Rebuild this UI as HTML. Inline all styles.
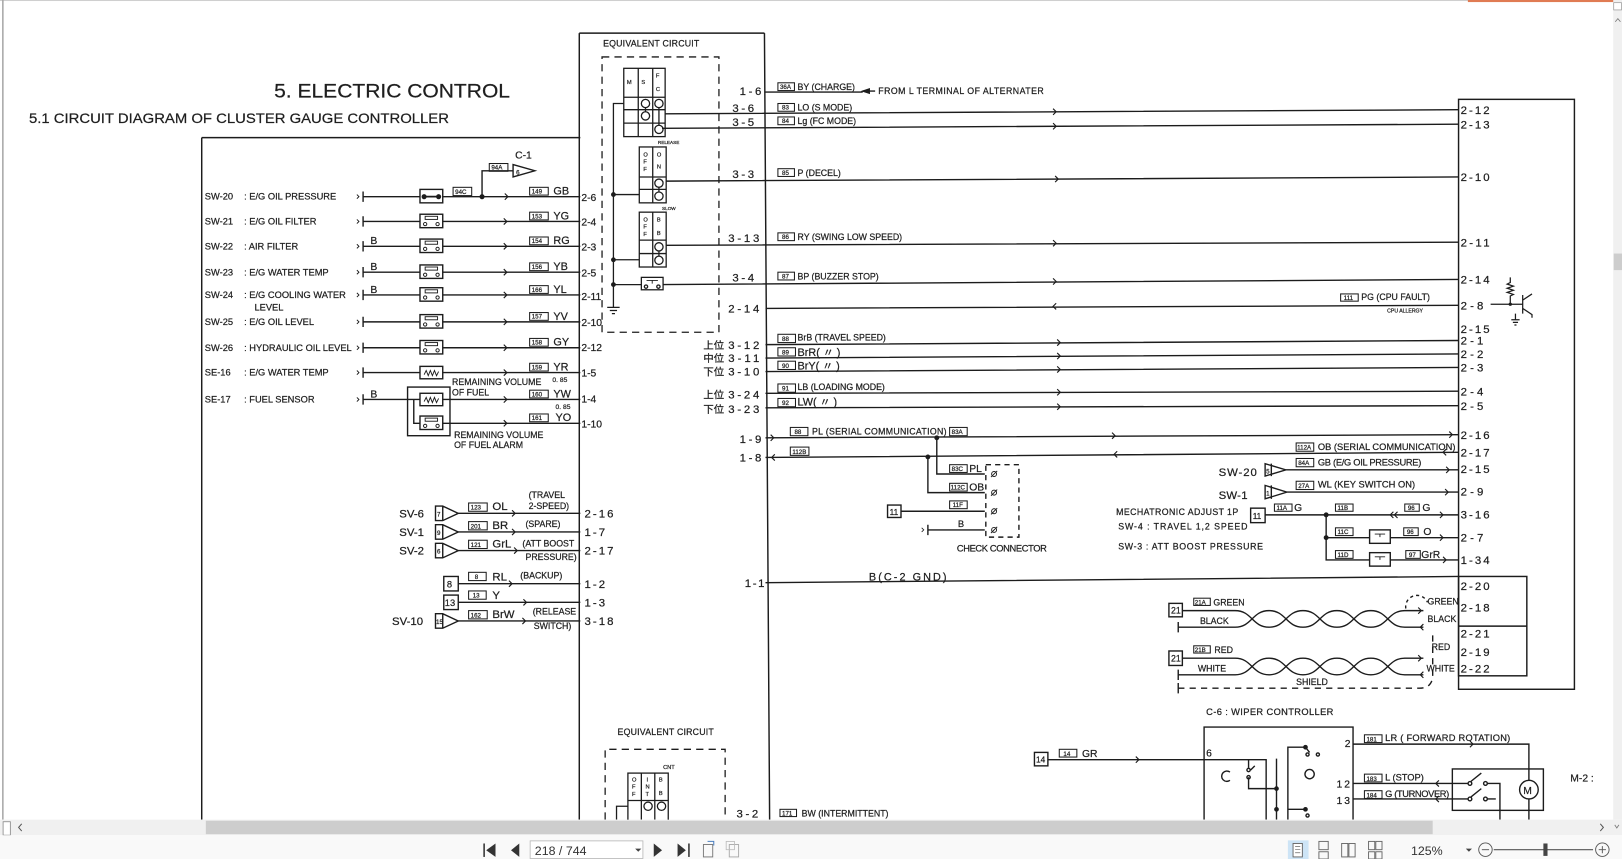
<!DOCTYPE html>
<html><head><meta charset="utf-8">
<style>
html,body{margin:0;padding:0;background:#fff;overflow:hidden;}
svg{display:block;}
text{font-family:"Liberation Sans","Noto Sans CJK JP",sans-serif;fill:#1e1e1e;stroke:#1e1e1e;stroke-width:0.22;}
.ui text{fill:#333;stroke:none;}
</style></head><body>
<svg width="1622" height="859" viewBox="0 0 1568 830" preserveAspectRatio="none" xmlns="http://www.w3.org/2000/svg">
<rect x="0" y="0" width="1568" height="830" fill="#fff"/>

<!-- TITLES -->
<text x="265" y="94" font-size="19" textLength="228" lengthAdjust="spacingAndGlyphs">5.  ELECTRIC CONTROL</text>
<text x="28" y="119" font-size="13.5" textLength="406" lengthAdjust="spacingAndGlyphs">5.1 CIRCUIT DIAGRAM OF CLUSTER GAUGE CONTROLLER</text>

<g stroke="#1c1c1c" stroke-width="1.4" fill="none">
<path d="M195,133 H561 M195,133 V792 M560,32 V792 M560,32 H739 M739,32 L744,792"/>
<rect x="1410" y="96" width="112" height="570"/>
<rect x="1410" y="557" width="66" height="96"/>
<path d="M1410,605 H1476"/>
</g>

<!-- LEFT SENSOR ROWS -->
<g font-size="9">
<text x="198" y="193">SW-20</text><text x="236" y="193">: E/G OIL PRESSURE</text>
<text x="198" y="217">SW-21</text><text x="236" y="217">: E/G OIL FILTER</text>
<text x="198" y="241">SW-22</text><text x="236" y="241">: AIR FILTER</text>
<text x="198" y="266">SW-23</text><text x="236" y="266">: E/G WATER TEMP</text>
<text x="198" y="288">SW-24</text><text x="236" y="288">: E/G COOLING WATER</text>
<text x="246" y="300">LEVEL</text>
<text x="198" y="314">SW-25</text><text x="236" y="314">: E/G OIL LEVEL</text>
<text x="198" y="339">SW-26</text><text x="236" y="339">: HYDRAULIC OIL LEVEL</text>
<text x="198" y="363">SE-16</text><text x="236" y="363">: E/G WATER TEMP</text>
<text x="198" y="389">SE-17</text><text x="236" y="389">: FUEL SENSOR</text>
<text x="358" y="236" font-size="10">B</text>
<text x="358" y="261" font-size="10">B</text>
<text x="358" y="283" font-size="10">B</text>
<text x="358" y="384" font-size="10">B</text>
</g>

<g stroke="#1c1c1c" stroke-width="1.35" fill="none">
<path d="M351,185 V195 M351,209 V219 M351,233 V243 M351,258 V268 M351,280 V290 M351,306 V316 M351,331 V341 M351,355 V365 M351,381 V391"/>
<path stroke-width="0.9" d="M345,188 l2,2 l-2,2 M345,212 l2,2 l-2,2 M345,236 l2,2 l-2,2 M345,261 l2,2 l-2,2 M345,283 l2,2 l-2,2 M345,309 l2,2 l-2,2 M345,334 l2,2 l-2,2 M345,358 l2,2 l-2,2 M345,384 l2,2 l-2,2"/>
<path d="M351,190 H406 M428,190 H561
M351,214 H406 M428,214 H561
M351,238 H406 M428,238 H561
M351,263 H406 M428,263 H561
M351,285 H406 M428,285 H561
M351,311 H406 M428,311 H561
M351,336 H406 M428,336 H561
M351,360 H406 M428,360 H561
M351,386 H406 M428,386 H561
M400,386 V409 H406 M428,409 H561"/>
<rect x="406" y="183" width="22" height="13"/>
<rect x="406" y="207" width="22" height="13"/>
<rect x="406" y="231" width="22" height="13"/>
<rect x="406" y="256" width="22" height="13"/>
<rect x="406" y="278" width="22" height="13"/>
<rect x="406" y="304" width="22" height="13"/>
<rect x="406" y="329" width="22" height="13"/>
<rect x="406" y="354" width="22" height="12"/>
<rect x="406" y="380" width="22" height="12"/>
<rect x="406" y="402" width="22" height="13"/>
<rect x="394" y="374" width="41" height="47"/>
<path stroke-width="1.6" d="M409,190 H425"/>
<g stroke-width="0.9">
<rect x="411" y="209" width="12" height="3"/><circle cx="411" cy="216.5" r="1.6"/><circle cx="423" cy="216.5" r="1.6"/>
<rect x="411" y="233" width="12" height="3"/><circle cx="411" cy="240.5" r="1.6"/><circle cx="423" cy="240.5" r="1.6"/>
<rect x="411" y="258" width="12" height="3"/><circle cx="411" cy="265.5" r="1.6"/><circle cx="423" cy="265.5" r="1.6"/>
<rect x="411" y="280" width="12" height="3"/><circle cx="411" cy="287.5" r="1.6"/><circle cx="423" cy="287.5" r="1.6"/>
<rect x="411" y="306" width="12" height="3"/><circle cx="411" cy="313.5" r="1.6"/><circle cx="423" cy="313.5" r="1.6"/>
<rect x="411" y="331" width="12" height="3"/><circle cx="411" cy="338.5" r="1.6"/><circle cx="423" cy="338.5" r="1.6"/>
<rect x="411" y="404" width="12" height="3"/><circle cx="411" cy="411.5" r="1.6"/><circle cx="423" cy="411.5" r="1.6"/>
<path d="M410,362 l2,-4 l2,5 l2,-5 l2,5 l2,-5 l2,5 l2,-4"/>
<path d="M410,388 l2,-4 l2,5 l2,-5 l2,5 l2,-5 l2,5 l2,-4"/>
</g>
<circle cx="410" cy="190" r="1.8" fill="#1c1c1c"/><circle cx="424" cy="190" r="1.8" fill="#1c1c1c"/>
<path stroke-width="1.1" d="M488,187 l3,3 l-3,3 M487,211 l3,3 l-3,3 M487,235 l3,3 l-3,3 M487,260 l3,3 l-3,3 M487,282 l3,3 l-3,3 M487,308 l3,3 l-3,3 M487,333 l3,3 l-3,3 M487,357 l3,3 l-3,3 M487,383 l3,3 l-3,3 M487,406 l3,3 l-3,3"/>
<path d="M466,190 V165 H496"/>
<circle cx="466" cy="190" r="1.8" fill="#1c1c1c"/>
<path d="M496,159 V171 L517,165 Z"/>
</g>
<g stroke="#1c1c1c" stroke-width="1" fill="none">
<rect x="438" y="181" width="18" height="8"/>
<rect x="473" y="158" width="18" height="7.5"/>
<rect x="512" y="181" width="18" height="7.5"/>
<rect x="512" y="205" width="18" height="7.5"/>
<rect x="512" y="229" width="18" height="7.5"/>
<rect x="512" y="254" width="18" height="7.5"/>
<rect x="512" y="276" width="18" height="7.5"/>
<rect x="512" y="302" width="18" height="7.5"/>
<rect x="512" y="327" width="18" height="7.5"/>
<rect x="512" y="351" width="18" height="7.5"/>
<rect x="512" y="377" width="18" height="7.5"/>
<rect x="512" y="400" width="18" height="7.5"/>
</g>
<g font-size="6">
<text x="440" y="187.5">94C</text><text x="475" y="164">94A</text>
<text x="514" y="187">149</text><text x="514" y="211">153</text><text x="514" y="235">154</text><text x="514" y="260">156</text>
<text x="514" y="282">166</text><text x="514" y="308">157</text><text x="514" y="333">158</text><text x="514" y="357">159</text>
<text x="514" y="383">160</text><text x="514" y="406">161</text>
<text x="499" y="168.5" font-size="6">6</text>
</g>
<text x="498" y="153" font-size="10">C-1</text>
<g font-size="10.5">
<text x="535" y="188">GB</text><text x="535" y="212">YG</text><text x="535" y="236">RG</text><text x="535" y="261">YB</text>
<text x="535" y="283">YL</text><text x="535" y="309">YV</text><text x="535" y="334">GY</text><text x="535" y="358">YR</text>
<text x="535" y="384">YW</text><text x="537" y="407">YO</text>
</g>
<g font-size="10">
<text x="562" y="194">2-6</text><text x="562" y="218">2-4</text><text x="562" y="242">2-3</text><text x="562" y="267">2-5</text>
<text x="562" y="290">2-11</text><text x="562" y="315">2-10</text><text x="562" y="339">2-12</text><text x="562" y="364">1-5</text>
<text x="562" y="389">1-4</text><text x="562" y="413">1-10</text>
</g>
<g font-size="8.5">
<text x="437" y="372">REMAINING VOLUME</text><text x="437" y="382">OF FUEL</text>
<text x="439" y="423">REMAINING VOLUME</text><text x="439" y="433">OF FUEL ALARM</text>
<text x="534" y="369" font-size="6.5">0. 85</text><text x="537" y="395" font-size="6.5">0. 85</text>
</g>

<!-- SV ROWS -->
<g stroke="#1c1c1c" stroke-width="1.35" fill="none">
<path d="M421,489 H428 L443,496 L428,503 H421 Z M428,489 V503"/>
<path d="M421,507 H428 L443,514 L428,521 H421 Z M428,507 V521"/>
<path d="M421,525 H428 L443,532 L428,539 H421 Z M428,525 V539"/>
<path d="M421,593 H428 L443,600 L428,607 H421 Z M428,593 V607"/>
<rect x="429" y="557" width="14" height="14"/>
<rect x="429" y="575" width="14" height="14"/>
<path d="M443,496 H561 M443,514 H561 M443,532 H561 M443,564 H561 M443,582 H561 M443,600 H561"/>
<path stroke-width="1.1" d="M495,493 l3,3 l-3,3 M495,511 l3,3 l-3,3 M497,529 l3,3 l-3,3 M492,561 l3,3 l-3,3 M506,579 l3,3 l-3,3 M505,597 l3,3 l-3,3"/>
</g>
<g stroke="#1c1c1c" stroke-width="1" fill="none">
<rect x="453" y="486" width="18" height="8"/><rect x="453" y="504" width="18" height="8"/><rect x="453" y="522" width="18" height="8"/>
<rect x="453" y="553" width="17" height="8"/><rect x="453" y="571" width="17" height="8"/><rect x="453" y="590" width="18" height="8"/>
</g>
<g font-size="6">
<text x="455" y="492.5">123</text><text x="455" y="510.5">201</text><text x="455" y="528.5">121</text>
<text x="459" y="559.5">8</text><text x="457" y="577.5">13</text><text x="455" y="596.5">162</text>
<text x="422.5" y="499">7</text><text x="422.5" y="517">9</text><text x="422.5" y="535">6</text><text x="421.5" y="603">15</text>
</g>
<text x="432" y="567.5" font-size="9">8</text><text x="430" y="585.5" font-size="9">13</text>
<g font-size="11">
<text x="386" y="500">SV-6</text><text x="386" y="518">SV-1</text><text x="386" y="536">SV-2</text><text x="379" y="604">SV-10</text>
<text x="476" y="493">OL</text><text x="476" y="511">BR</text><text x="476" y="529">GrL</text><text x="476" y="561">RL</text><text x="476" y="579">Y</text><text x="476" y="597">BrW</text>
<text x="565" y="500" textLength="28">2-16</text><text x="565" y="518" textLength="20">1-7</text><text x="565" y="536" textLength="28">2-17</text>
<text x="565" y="568" textLength="20">1-2</text><text x="565" y="586" textLength="20">1-3</text><text x="565" y="604" textLength="28">3-18</text>
</g>
<g font-size="8.5">
<text x="511" y="481">(TRAVEL</text><text x="511" y="492">2-SPEED)</text><text x="508" y="509">(SPARE)</text>
<text x="505" y="528">(ATT BOOST</text><text x="508" y="541">PRESSURE)</text><text x="503" y="559">(BACKUP)</text>
<text x="515" y="594">(RELEASE</text><text x="516" y="608">SWITCH)</text>
</g>

<!-- EQUIVALENT CIRCUIT (TOP) -->
<text x="583" y="45" font-size="8.5" textLength="93">EQUIVALENT CIRCUIT</text>
<g stroke="#1c1c1c" stroke-width="1.25" fill="none">
<rect x="582" y="55" width="113" height="266" stroke-dasharray="7,5"/>
<rect x="603" y="66" width="40" height="66"/>
<path d="M617,66 V132 M631,66 V132 M603,94 H643 M603,106 H643 M603,119 H643"/>
<circle cx="624" cy="100" r="4"/><circle cx="637" cy="100" r="4"/><circle cx="624" cy="112" r="4"/><circle cx="637" cy="125" r="4"/>
<path d="M624,104 V108 M637,104 V121"/>
<rect x="618" y="142" width="26" height="54"/>
<path d="M631,142 V196 M618,171 H644 M618,183 H644"/>
<circle cx="637" cy="177" r="4"/><circle cx="637" cy="189.5" r="4"/><path d="M637,181 V185.5"/>
<rect x="618" y="205" width="26" height="53"/>
<path d="M631,205 V258 M618,232 H644 M618,245 H644"/>
<circle cx="637" cy="238.5" r="4"/><circle cx="637" cy="251.5" r="4"/><path d="M637,242.5 V247.5"/>
<rect x="620" y="268" width="21" height="12"/>
<path stroke-width="0.9" d="M625,271 H636 M630.5,271 V274"/>
<circle cx="624.5" cy="277" r="1.6"/><circle cx="636.5" cy="277" r="1.6"/>
<path d="M603,100 H593 V297 M593,188 H618 M593,251 H618 M593,275 H620"/>
<path d="M587,297 H599 M589.5,300 H596.5 M591.5,303 H594.5"/>
<circle cx="593" cy="188" r="1.7" fill="#1c1c1c"/><circle cx="593" cy="251" r="1.7" fill="#1c1c1c"/><circle cx="593" cy="275" r="1.7" fill="#1c1c1c"/>
</g>
<g font-size="5.5">
<text x="606" y="81">M</text><text x="620" y="81">S</text><text x="634" y="75">F</text><text x="634" y="88">C</text>
<text x="622" y="151">O</text><text x="622" y="158">F</text><text x="622" y="165">F</text><text x="635" y="151">O</text><text x="635" y="163">N</text>
<text x="622" y="214">O</text><text x="622" y="221">F</text><text x="622" y="228">F</text><text x="635" y="214">B</text><text x="635" y="227">B</text>
<text x="636" y="139" font-size="4.5">RELEASE</text><text x="640" y="203" font-size="4.5">SLOW</text>
</g>

<!-- RIGHT-SIDE WIRES -->
<g stroke="#1c1c1c" stroke-width="1.35" fill="none">
<path d="M739,89 H834 M834,88 H846"/>
<path d="M643,110 L1410,106 M640,124 L1410,120 M644,175 L1410,171 M644,237 L1410,234 M641,275 L1410,270 M740,298 L1410,295"/>
<path d="M740,333 L1410,329 M740,346 L1410,342 M740,359 L1410,355 M740,380 L1410,378 M740,394 L1410,392"/>
<path d="M740,423 L1410,420 M740,442 L1410,437 M740,563 L1410,557"/>
<path stroke-width="1.1" d="M1018,105 l3,3 l-3,3 M1018,119 l3,3 l-3,3 M1020,170 l3,3 l-3,3 M1018,232 l3,3 l-3,3 M1018,269 l3,3 l-3,3 M1021,293 l-3,3 l3,3
M1022,328 l3,3 l-3,3 M1022,341 l3,3 l-3,3 M1022,354 l3,3 l-3,3 M1022,376 l3,3 l-3,3 M1022,390 l3,3 l-3,3
M745,420 l3,3 l-3,3 M1075,418 l3,3 l-3,3 M1401,417 l3,3 l-3,3 M749,439 l-3,3 l3,3 M1080,436 l-3,3 l3,3 M1398,434 l-3,3 l3,3"/>
<path d="M905.6,423 V458 H952 M897,441.5 V476 H952 M871,494 H952 M897,512 H952 M897,507 V517"/>
<rect x="858" y="488" width="13" height="12"/>
<path stroke-dasharray="5,4" d="M953,449 H985 V519 H953 V449"/>
<circle cx="905.6" cy="423" r="1.7" fill="#1c1c1c"/><circle cx="897" cy="441.5" r="1.7" fill="#1c1c1c"/>
<g stroke-width="0.9"><circle cx="961" cy="458" r="2.4"/><circle cx="961" cy="476" r="2.4"/><circle cx="961" cy="494" r="2.4"/><circle cx="961" cy="512" r="2.4"/>
<path d="M958,461 l6,-6 M958,479 l6,-6 M958,497 l6,-6 M958,515 l6,-6"/></g>
</g>
<path d="M832,88 L841,85 L841,91 Z" fill="#1c1c1c"/>
<g stroke="#1c1c1c" stroke-width="1" fill="none">
<rect x="752" y="80" width="16" height="7.5"/><rect x="752" y="100" width="16" height="7.5"/><rect x="752" y="113" width="16" height="7.5"/>
<rect x="752" y="163" width="16" height="7.5"/><rect x="752" y="225" width="16" height="7.5"/><rect x="752" y="263" width="16" height="7.5"/>
<rect x="752" y="323" width="17" height="8"/><rect x="752" y="336" width="17" height="8"/><rect x="752" y="349" width="17" height="8"/>
<rect x="752" y="371" width="17" height="8"/><rect x="752" y="385" width="17" height="8"/>
<rect x="764" y="413" width="17" height="8"/><rect x="918" y="413" width="17" height="8"/><rect x="764" y="432" width="18" height="8"/>
<rect x="918" y="449" width="17" height="7.5"/><rect x="918" y="467" width="17" height="7.5"/><rect x="918" y="484" width="17" height="7.5"/>
<rect x="1296" y="284" width="17" height="7"/>
</g>
<g font-size="6">
<text x="754" y="86">36A</text><text x="756" y="106">83</text><text x="756" y="119">84</text><text x="756" y="169">85</text>
<text x="756" y="231">86</text><text x="756" y="269">87</text><text x="756" y="329.5">88</text><text x="756" y="342.5">89</text>
<text x="756" y="355.5">90</text><text x="756" y="377.5">91</text><text x="756" y="391.5">92</text>
<text x="768" y="419.5">88</text><text x="920" y="419.5">83A</text><text x="766" y="438.5">112B</text>
<text x="920" y="455">83C</text><text x="919" y="473">112C</text><text x="921" y="490">11F</text><text x="1299" y="290">111</text>
</g>
<g font-size="8.5">
<text x="771" y="87">BY (CHARGE)</text>
<text x="849" y="91" textLength="160">FROM L TERMINAL OF ALTERNATER</text>
<text x="771" y="107">LO (S MODE)</text><text x="771" y="120">Lg (FC MODE)</text><text x="771" y="170">P (DECEL)</text>
<text x="771" y="232">RY (SWING LOW SPEED)</text><text x="771" y="270">BP (BUZZER STOP)</text>
<text x="771" y="329">BrB (TRAVEL SPEED)</text><text x="771" y="377">LB (LOADING MODE)</text>
<text x="785" y="420" textLength="130">PL (SERIAL COMMUNICATION)</text>
<text x="1316" y="290">PG (CPU FAULT)</text>
<text x="1341" y="302" font-size="5">CPU ALLERGY</text>
</g>
<g font-size="10.5">
<text x="771" y="344">BrR(  〃  )</text><text x="771" y="357">BrY(  〃  )</text><text x="771" y="392">LW(  〃  )</text>
<text x="937" y="456" font-size="10">PL</text><text x="937" y="474" font-size="10">OB</text>
<text x="926" y="509" font-size="9">B</text>
<text x="860" y="497.5" font-size="8">11</text>
</g>
<text x="925" y="533" font-size="9" textLength="87">CHECK CONNECTOR</text>
<text x="840" y="561" font-size="10.5" textLength="75">B(C-2 GND)</text>
<path d="M891,510 l2,2 l-2,2" stroke="#1c1c1c" stroke-width="0.8" fill="none"/>

<g font-size="11">
<text x="715" y="92" textLength="21">1-6</text><text x="708" y="108" textLength="21">3-6</text><text x="708" y="122" textLength="21">3-5</text>
<text x="708" y="172" textLength="21">3-3</text><text x="704" y="234" textLength="30">3-13</text><text x="708" y="272" textLength="21">3-4</text>
<text x="704" y="302" textLength="30">2-14</text><text x="704" y="337" textLength="30">3-12</text><text x="704" y="350" textLength="30">3-11</text>
<text x="704" y="363" textLength="30">3-10</text><text x="704" y="385" textLength="30">3-24</text><text x="704" y="399" textLength="30">3-23</text>
<text x="715" y="428" textLength="21">1-9</text><text x="715" y="446" textLength="21">1-8</text><text x="720" y="567" textLength="19">1-1</text>
<text x="712" y="790" textLength="21">3-2</text>
</g>
<g font-size="10">
<text x="680" y="337">上位</text><text x="680" y="350">中位</text><text x="680" y="363">下位</text>
<text x="680" y="385">上位</text><text x="680" y="399">下位</text>
</g>

<g font-size="11">
<text x="1412" y="110" textLength="28">2-12</text><text x="1412" y="124" textLength="28">2-13</text><text x="1412" y="175" textLength="28">2-10</text>
<text x="1412" y="238" textLength="28">2-11</text><text x="1412" y="274" textLength="28">2-14</text><text x="1412" y="299" textLength="22">2-8</text>
<text x="1412" y="322" textLength="28">2-15</text><text x="1412" y="333" textLength="22">2-1</text><text x="1412" y="346" textLength="22">2-2</text>
<text x="1412" y="359" textLength="22">2-3</text><text x="1412" y="382" textLength="22">2-4</text><text x="1412" y="396" textLength="22">2-5</text>
<text x="1412" y="424" textLength="28">2-16</text><text x="1412" y="441" textLength="28">2-17</text><text x="1412" y="457" textLength="28">2-15</text>
<text x="1412" y="479" textLength="22">2-9</text><text x="1412" y="501" textLength="28">3-16</text><text x="1412" y="523" textLength="22">2-7</text>
<text x="1412" y="545" textLength="28">1-34</text><text x="1412" y="570" textLength="28">2-20</text><text x="1412" y="591" textLength="28">2-18</text>
<text x="1412" y="616" textLength="28">2-21</text><text x="1412" y="634" textLength="28">2-19</text><text x="1412" y="650" textLength="28">2-22</text>
</g>

<g stroke="#1c1c1c" stroke-width="1.2" fill="none">
<path d="M1441,294 H1472 M1460,268 V273 l-3,1.5 l6,2 l-6,2 l6,2 l-6,2 l6,2 l-3,1.5 V294"/>
<path d="M1472,285 V303 M1472,290 L1481,284 M1472,298 L1481,304 V307"/>
<path d="M1465,303 V309 M1461,309 H1469 M1462.5,311.5 H1467.5 M1464,314 H1466"/>
</g>
<circle cx="1460" cy="294" r="1.6" fill="#1c1c1c"/>

<g stroke="#1c1c1c" stroke-width="1.35" fill="none">
<path d="M1223,448 V460 L1243,454 Z M1229,448 V460 M1243,454 H1410"/>
<path d="M1223,469 V482 L1244,475.5 Z M1229,469 V482 M1244,475.5 H1410"/>
<rect x="1209" y="491" width="14" height="14"/>
<path d="M1223,497.5 H1410 M1282,497.5 V541 H1410 M1282,519.5 H1410"/>
<circle cx="1282" cy="497.5" r="1.7" fill="#1c1c1c"/><circle cx="1282" cy="519.5" r="1.7" fill="#1c1c1c"/>
<rect x="1324" y="512" width="20" height="13" fill="#fff"/><rect x="1324" y="534" width="20" height="13" fill="#fff"/>
<path stroke-width="0.9" d="M1329,516 H1339 M1334,516 V519 M1329,538 H1339 M1334,538 V541"/>
<path stroke-width="1.1" d="M1398,451 l3,3 l-3,3 M1397,472.5 l3,3 l-3,3 M1392,494.5 l3,3 l-3,3 M1392,516.5 l3,3 l-3,3 M1395,538 l3,3 l-3,3 M1347,494.5 l-3,3 l3,3 M1351,494.5 l-3,3 l3,3"/>
</g>
<g stroke="#1c1c1c" stroke-width="1" fill="none">
<rect x="1253" y="428" width="17" height="8"/><rect x="1253" y="443" width="17" height="8"/><rect x="1253" y="465" width="17" height="8"/>
<rect x="1232" y="487" width="17" height="7"/><rect x="1291" y="487" width="17" height="7"/><rect x="1358" y="487" width="14" height="7"/>
<rect x="1291" y="510" width="17" height="7.5"/><rect x="1357" y="510" width="14" height="7.5"/>
<rect x="1291" y="532" width="17" height="7.5"/><rect x="1359" y="532" width="14" height="7.5"/>
</g>
<g font-size="6">
<text x="1254" y="434.5">112A</text><text x="1255" y="449.5">84A</text><text x="1255" y="471.5">27A</text>
<text x="1234" y="493">11A</text><text x="1293" y="493">11B</text><text x="1361" y="493">96</text>
<text x="1293" y="516">11C</text><text x="1360" y="516">96</text><text x="1293" y="538">11D</text><text x="1362" y="538">97</text>
<text x="1224" y="457.5">5</text><text x="1224" y="479">1</text>
</g>
<text x="1211" y="501.5" font-size="8">11</text>
<g font-size="9">
<text x="1274" y="435" textLength="133">OB (SERIAL COMMUNICATION)</text>
<text x="1274" y="450" textLength="100">GB (E/G OIL PRESSURE)</text>
<text x="1274" y="471" textLength="94">WL (KEY SWITCH ON)</text>
<text x="1251" y="494" font-size="10">G</text><text x="1375" y="494" font-size="10">G</text>
<text x="1376" y="517" font-size="10">O</text><text x="1374" y="539" font-size="10">GrR</text>
<text x="1079" y="497.5" font-size="8.5" textLength="118">MECHATRONIC ADJUST 1P</text>
<text x="1081" y="511.5" font-size="8.5" textLength="125">SW-4  :  TRAVEL 1,2 SPEED</text>
<text x="1081" y="531" font-size="8.5" textLength="140">SW-3  :  ATT BOOST PRESSURE</text>
</g>
<g font-size="11">
<text x="1178" y="460" textLength="37">SW-20</text><text x="1178" y="482" textLength="28">SW-1</text>
</g>

<g stroke="#1c1c1c" stroke-width="1.35" fill="none">
<rect x="1130" y="583" width="13" height="13"/><rect x="1130" y="629" width="13" height="14"/>
<path d="M1143,590 H1194 C1210.4,590 1210.4,606 1226.8,606 C1243.2,606 1243.2,590 1259.6,590 C1276,590 1276,606 1292.4,606 C1308.8,606 1308.8,590 1325.2,590 C1341.6,590 1341.6,606 1358,606 H1376"/>
<path d="M1139,606 H1194 C1210.4,606 1210.4,590 1226.8,590 C1243.2,590 1243.2,606 1259.6,606 C1276,606 1276,590 1292.4,590 C1308.8,590 1308.8,606 1325.2,606 C1341.6,606 1341.6,590 1358,590 H1376"/>
<path d="M1143,636 H1194 C1210.4,636 1210.4,652 1226.8,652 C1243.2,652 1243.2,636 1259.6,636 C1276,636 1276,652 1292.4,652 C1308.8,652 1308.8,636 1325.2,636 C1341.6,636 1341.6,652 1358,652 H1376"/>
<path d="M1139,652 H1194 C1210.4,652 1210.4,636 1226.8,636 C1243.2,636 1243.2,652 1259.6,652 C1276,652 1276,636 1292.4,636 C1308.8,636 1308.8,652 1325.2,652 C1341.6,652 1341.6,636 1358,636 H1376"/>
<path d="M1139,601 V611 M1139,647 V657 M1139,660 V670"/>
<path stroke-dasharray="6,5" d="M1139,665 H1372 Q1385,665 1385,652 V610"/>
<path stroke-dasharray="3,3" d="M1359,588 A11,11 0 0 1 1380,582"/>
<path stroke-width="1.1" d="M1371,587 l3,3 l-3,3 M1376,603 l-3,3 l3,3 M1371,633 l3,3 l-3,3 M1376,649 l-3,3 l3,3"/>
</g>
<g stroke="#1c1c1c" stroke-width="1" fill="none">
<rect x="1154" y="578" width="16" height="7"/><rect x="1154" y="624" width="16" height="7"/>
</g>
<g font-size="6"><text x="1155" y="584">21A</text><text x="1155" y="630">21B</text></g>
<g font-size="8.5">
<text x="1132" y="593">21</text><text x="1132" y="639">21</text>
<text x="1173" y="585">GREEN</text><text x="1160" y="603">BLACK</text>
<text x="1174" y="631">RED</text><text x="1158" y="649">WHITE</text>
<text x="1380" y="584">GREEN</text><text x="1380" y="601">BLACK</text>
<text x="1384" y="628">RED</text><text x="1379" y="649">WHITE</text>
<text x="1253" y="662">SHIELD</text>
</g>

<!-- wiper controller -->
<text x="1166" y="691" font-size="9" textLength="123">C-6  :  WIPER CONTROLLER</text>
<g stroke="#1c1c1c" stroke-width="1.35" fill="none">
<path d="M1164,792 V702.5 H1308 V792"/>
<rect x="1000" y="727" width="13" height="13"/>
<path d="M1013,734 H1224 V792"/>
<path stroke-width="1.1" d="M1098,731 l3,3 l-3,3 M1421,716 l3,3 l-3,3 M1391,754 l-3,3 l3,3 M1391,769 l-3,3 l3,3"/>
<path d="M1207,734 V742 M1207,751 V762 H1234 M1234,733 V792 M1245,792 V722 H1262"/>
<circle cx="1207" cy="744" r="1.6"/><circle cx="1207" cy="751" r="1.6"/>
<path d="M1209,744 L1213,740"/>
<path d="M1189,746 A5,5 0 1 0 1189,754"/>
<circle cx="1266" cy="748" r="4.5"/>
<circle cx="1264" cy="729" r="1.5"/><circle cx="1274" cy="729" r="1.5"/><path d="M1262,722 L1266,727"/>
<path d="M1245,782 H1262"/><circle cx="1264" cy="788" r="1.5"/>
<circle cx="1234" cy="762" r="1.6" fill="#1c1c1c"/><circle cx="1262" cy="722" r="1.6" fill="#1c1c1c"/><circle cx="1234" cy="782" r="1.6" fill="#1c1c1c"/><circle cx="1262" cy="782" r="1.6" fill="#1c1c1c"/>
<path d="M1308,719 H1478 V754 M1478,772 V792"/>
<circle cx="1478" cy="763" r="9"/>
<rect x="1404" y="743" width="88" height="40"/>
<path d="M1308,757 H1419 M1308,772 H1419"/>
<circle cx="1421" cy="757" r="1.8"/><circle cx="1436" cy="757" r="1.8"/><path d="M1422,755 L1432,747 M1438,757 H1450 V792"/>
<circle cx="1421" cy="772" r="1.8"/><circle cx="1436" cy="772" r="1.8"/><path d="M1422,770 L1432,762 M1438,772 H1446"/>
</g>
<g stroke="#1c1c1c" stroke-width="1" fill="none">
<rect x="1024" y="724" width="17" height="7.5"/><rect x="1319" y="710" width="17" height="7.5"/>
<rect x="1319" y="748" width="17" height="7.5"/><rect x="1319" y="764" width="17" height="7.5"/>
</g>
<g font-size="6"><text x="1028" y="730.5">14</text><text x="1321" y="716.5">181</text><text x="1321" y="754.5">183</text><text x="1321" y="770.5">184</text></g>
<text x="1001.5" y="737" font-size="8">14</text>
<text x="1472.5" y="767" font-size="10">M</text>
<g font-size="10">
<text x="1046" y="731.5">GR</text><text x="1166" y="731">6</text>
<text x="1300" y="722">2</text><text x="1292" y="761" textLength="13">12</text><text x="1292" y="777" textLength="13">13</text>
<text x="1518" y="755">M-2 :</text>
</g>
<g font-size="9">
<text x="1339" y="716" textLength="121">LR ( FORWARD ROTATION)</text>
<text x="1339" y="754">L (STOP)</text><text x="1339" y="770" textLength="62">G (TURNOVER)</text>
</g>

<!-- bottom equivalent circuit -->
<text x="597" y="710" font-size="8.5" textLength="93">EQUIVALENT CIRCUIT</text>
<g stroke="#1c1c1c" stroke-width="1.25" fill="none">
<path stroke-dasharray="7,5" d="M585,792 V724 H701 V792"/>
<rect x="607" y="747" width="39" height="50"/>
<path d="M620,747 V792 M633,747 V792 M607,773.5 H646 M596,792 V779 H607"/>
<circle cx="626.5" cy="779" r="4"/><circle cx="639.5" cy="779" r="4"/>
</g>
<g font-size="5.5">
<text x="641" y="743">CNT</text>
<text x="611" y="755">O</text><text x="611" y="762">F</text><text x="611" y="769">F</text>
<text x="625" y="755">I</text><text x="624" y="762">N</text><text x="624" y="769">T</text>
<text x="637" y="755">B</text><text x="637" y="768">B</text>
</g>
<rect x="754" y="782" width="16" height="7" stroke="#1c1c1c" stroke-width="1" fill="none"/>
<text x="756" y="788" font-size="6">171</text>
<text x="775" y="789" font-size="8.5">BW (INTERMITTENT)</text>

<!-- UI CHROME -->
<g class="ui">
<rect x="0" y="0" width="1568" height="1" fill="#cfcfcf"/>
<rect x="1419" y="0" width="141" height="2" fill="#e07b53"/>
<rect x="2" y="0" width="1.5" height="792" fill="#a8a8a8"/>
<rect x="1559.5" y="0" width="8.5" height="792" fill="#f0f0f0"/>
<rect x="1560" y="2.6" width="7.5" height="7" fill="#fff" stroke="#999" stroke-width="0.7"/>
<path d="M1561.5,21 l2.5,-3 l2.5,3" stroke="#777" stroke-width="0.8" fill="none"/>
<rect x="1560" y="245" width="8" height="16" fill="#cdcdcd"/>
<rect x="0" y="792" width="1568" height="15" fill="#f0f0f0"/>
<rect x="199" y="793" width="1186" height="13" fill="#cdcdcd"/>
<rect x="3" y="794" width="7" height="13" fill="#fff" stroke="#888" stroke-width="0.8"/>
<path d="M21,796 l-3,3.5 l3,3.5" stroke="#555" stroke-width="1" fill="none"/>
<path d="M1547,796 l3,3.5 l-3,3.5" stroke="#555" stroke-width="1" fill="none"/>
<path d="M1561,797 l2,3 l2,-3" stroke="#777" stroke-width="0.8" fill="none"/>
<rect x="0" y="807" width="1568" height="23" fill="#f9f9f9"/>
<path d="M468,815 V828" stroke="#333" stroke-width="1.5"/>
<path d="M479,815 L470,821.5 L479,828 Z" fill="#333"/>
<path d="M502,815 L494,821.5 L502,828 Z" fill="#333"/>
<rect x="512.5" y="812.5" width="109" height="17" fill="#fff" stroke="#b8b8b8" stroke-width="0.8"/>
<text x="517" y="826" font-size="12">218 / 744</text>
<path d="M614,820 L617,823 L620,820 Z" fill="#444"/>
<path d="M632,815 L640,821.5 L632,828 Z" fill="#333"/>
<path d="M655,815 L663,821.5 L655,828 Z" fill="#333"/>
<path d="M666,815 V828" stroke="#333" stroke-width="1.5"/>
<rect x="680" y="816" width="9" height="12" fill="none" stroke="#777" stroke-width="0.9"/>
<path d="M684,813 h6 v4" stroke="#4a7fc0" stroke-width="1" fill="none"/>
<rect x="705" y="816" width="9" height="12" fill="none" stroke="#aaa" stroke-width="0.9"/>
<rect x="702" y="813" width="8" height="8" fill="none" stroke="#bbb" stroke-width="0.8"/>
<rect x="1245" y="812" width="20" height="18" fill="#cde4f6"/>
<rect x="1250" y="815" width="9" height="13" fill="#fff" stroke="#666" stroke-width="0.9"/>
<path d="M1252,818 h5 M1252,821 h5 M1252,824 h5" stroke="#666" stroke-width="0.7"/>
<rect x="1275" y="813" width="9" height="8" fill="none" stroke="#666" stroke-width="0.9"/>
<rect x="1275" y="823" width="9" height="7" fill="none" stroke="#666" stroke-width="0.9"/>
<rect x="1297" y="815" width="6" height="13" fill="none" stroke="#666" stroke-width="0.9"/>
<rect x="1304" y="815" width="6" height="13" fill="none" stroke="#666" stroke-width="0.9"/>
<rect x="1323" y="813" width="6" height="8" fill="none" stroke="#666" stroke-width="0.9"/>
<rect x="1330" y="813" width="6" height="8" fill="none" stroke="#666" stroke-width="0.9"/>
<rect x="1323" y="823" width="6" height="7" fill="none" stroke="#666" stroke-width="0.9"/>
<rect x="1330" y="823" width="6" height="7" fill="none" stroke="#666" stroke-width="0.9"/>
<text x="1364" y="826" font-size="12">125%</text>
<path d="M1417,820 L1420,823 L1423,820 Z" fill="#444"/>
<circle cx="1436" cy="821" r="6.5" fill="none" stroke="#555" stroke-width="0.9"/>
<path d="M1432.5,821 h7" stroke="#555" stroke-width="0.9"/>
<path d="M1444,821 H1540" stroke="#555" stroke-width="1"/>
<rect x="1492" y="815" width="4" height="12" fill="#444"/>
<circle cx="1549" cy="821" r="6.5" fill="none" stroke="#555" stroke-width="0.9"/>
<path d="M1545.5,821 h7 M1549,817.5 v7" stroke="#555" stroke-width="0.9"/>
</g>
</svg>
</body></html>
